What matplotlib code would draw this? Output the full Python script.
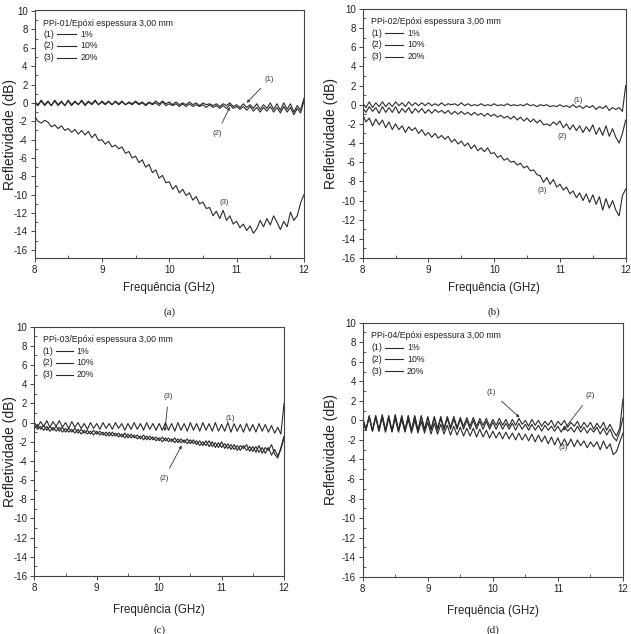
import numpy as np
import matplotlib
matplotlib.use("Agg")
import matplotlib.pyplot as plt

plt.rcParams['font.family'] = ['Liberation Sans', 'DejaVu Sans']
plt.rcParams['axes.unicode_minus'] = False

freq = np.round(np.arange(8.0, 12.0001, 0.05), 2)

a1 = [0.2, -0.2, 0.3, -0.2, 0.2, -0.3, 0.3, -0.2, 0.2, -0.3, 0.3, -0.2, 0.2, -0.2, 0.3, -0.2, 0.2, -0.1, 0.3, -0.2,
      0.2, -0.1, 0.2, -0.2, 0.2, -0.1, 0.2, -0.2, 0.1, -0.1, 0.2, -0.1, 0.1, -0.2, 0.1, -0.1, 0.2, -0.1, 0.2, -0.1,
      0.1, -0.2, 0.1, -0.2, 0.0, -0.2, 0.1, -0.2, 0.0, -0.3, 0.0, -0.2, -0.1, -0.3, -0.1, -0.4, -0.1, -0.3, 0.0, -0.4,
      -0.2, -0.5, -0.1, -0.5, -0.2, -0.6, -0.1, -0.7, -0.2, -0.6, 0.0, -0.7, -0.1, -0.8, 0.0, -0.7, -0.1, -1.0, -0.3, -0.8,
      0.5]
a2 = [0.0, -0.3, 0.2, -0.3, 0.1, -0.3, 0.2, -0.3, 0.1, -0.3, 0.2, -0.3, 0.1, -0.2, 0.2, -0.3, 0.1, -0.2, 0.2, -0.2,
      0.1, -0.2, 0.1, -0.2, 0.1, -0.2, 0.1, -0.2, 0.0, -0.2, 0.1, -0.2, 0.0, -0.3, 0.0, -0.2, 0.0, -0.3, 0.1, -0.3,
      -0.1, -0.3, -0.1, -0.4, -0.1, -0.4, -0.1, -0.4, -0.2, -0.4, -0.2, -0.5, -0.2, -0.5, -0.3, -0.6, -0.3, -0.6, -0.2, -0.6,
      -0.4, -0.7, -0.4, -0.8, -0.4, -0.9, -0.5, -1.0, -0.5, -0.9, -0.4, -1.0, -0.5, -1.1, -0.4, -1.0, -0.5, -1.3, -0.6, -1.1,
      0.2]
a3 = [-1.4, -2.0, -2.2, -1.9, -2.1, -2.6, -2.4, -2.8, -2.5, -3.0, -2.8, -3.2, -2.9, -3.4, -3.0, -3.5, -3.1, -3.8, -3.4, -4.1,
      -4.0, -4.5, -4.2, -4.8, -4.6, -5.0, -4.8, -5.5, -5.3, -6.0, -5.8, -6.5, -6.2, -7.0, -6.7, -7.6, -7.3, -8.2, -7.9, -8.7,
      -8.6, -9.4, -9.0, -9.8, -9.4, -10.1, -9.8, -10.6, -10.2, -11.0, -10.8, -11.5, -11.4, -12.3, -11.8, -12.6, -11.7, -12.8, -12.3, -13.2,
      -12.9, -13.6, -13.2, -13.9, -13.4, -14.2, -13.7, -12.8, -13.5, -12.6, -13.3, -12.3, -13.0, -13.8, -12.9, -13.5, -11.9, -12.8, -12.3, -10.9,
      -10.0]

b1 = [0.2, -0.3, 0.3, -0.3, 0.2, -0.2, 0.3, -0.2, 0.2, -0.2, 0.3, -0.1, 0.2, -0.2, 0.3, -0.1, 0.2, -0.1, 0.2, -0.1,
      0.2, -0.1, 0.1, -0.1, 0.2, -0.1, 0.1, 0.0, 0.1, -0.1, 0.2, -0.1, 0.1, -0.1, 0.0, -0.1, 0.1, -0.1, 0.0, -0.1,
      0.1, -0.1, 0.0, -0.1, 0.1, -0.1, 0.0, -0.1, 0.0, -0.1, 0.1, -0.1, 0.0, -0.2, 0.0, -0.1, 0.0, -0.2, -0.1, -0.2,
      0.0, -0.2, -0.1, -0.3, 0.0, -0.3, -0.1, -0.4, -0.1, -0.3, -0.1, -0.5, -0.2, -0.4, -0.1, -0.6, -0.3, -0.5, -0.3, -0.7,
      2.0]
b2 = [-0.3, -0.8, -0.2, -0.7, -0.3, -0.9, -0.2, -0.8, -0.3, -0.8, -0.2, -0.9, -0.4, -0.8, -0.3, -0.9, -0.4, -0.8, -0.4, -0.9,
      -0.5, -0.9, -0.5, -0.8, -0.6, -0.9, -0.6, -1.0, -0.7, -1.0, -0.7, -1.0, -0.8, -1.1, -0.8, -1.1, -0.9, -1.2, -0.9, -1.2,
      -1.0, -1.3, -1.1, -1.4, -1.2, -1.5, -1.2, -1.6, -1.3, -1.7, -1.4, -1.8, -1.5, -1.9, -1.6, -2.1, -2.0, -2.2, -1.8, -2.1,
      -1.7, -2.4, -2.0, -2.6, -2.1, -2.7, -2.2, -2.9, -2.3, -2.8, -2.1, -3.1, -2.4, -3.2, -2.2, -3.3, -2.5, -3.4, -4.0, -3.0,
      -1.6]
b3 = [-1.0, -1.8, -1.4, -2.2, -1.5, -2.1, -1.6, -2.4, -1.8, -2.6, -2.0, -2.6, -2.2, -2.9, -2.3, -2.7, -2.4, -3.0, -2.6, -3.2,
      -2.9, -3.4, -3.0, -3.5, -3.2, -3.6, -3.3, -3.9, -3.6, -4.1, -3.8, -4.3, -4.0, -4.6, -4.2, -4.8, -4.5, -4.9, -4.5, -5.1,
      -5.0, -5.5, -5.3, -5.8, -5.6, -6.0, -5.9, -6.3, -6.1, -6.6, -6.4, -6.9, -6.8, -7.3, -7.4, -8.1, -7.6, -8.3, -7.8, -8.6,
      -8.3, -8.9, -8.6, -9.3, -9.0, -9.7, -9.2, -10.0, -9.3, -10.2, -9.4, -10.4, -9.6, -11.0, -9.8, -10.8, -10.0, -11.0, -11.6, -9.5,
      -8.8]

c1 = [0.0, -0.5, 0.1, -0.4, 0.2, -0.5, 0.1, -0.4, 0.2, -0.5, 0.0, -0.6, 0.1, -0.5, 0.0, -0.6, -0.1, -0.7, 0.0, -0.6,
      -0.1, -0.7, 0.0, -0.6, -0.1, -0.7, 0.0, -0.6, -0.1, -0.8, -0.1, -0.7, 0.0, -0.7, -0.1, -0.8, 0.0, -0.7, -0.1, -0.8,
      -0.1, -0.8, 0.0, -0.8, -0.1, -0.9, 0.0, -0.8, -0.1, -0.9, 0.0, -0.8, -0.1, -0.9, 0.0, -0.8, -0.1, -0.9, 0.0, -0.9,
      -0.2, -0.9, 0.0, -1.0, -0.1, -0.9, -0.2, -1.0, -0.1, -0.9, -0.2, -1.0, -0.1, -0.9, -0.2, -1.0, -0.3, -1.1, -0.5, -1.2,
      2.0]
c2 = [-0.3, -0.7, -0.4, -0.8, -0.4, -0.9, -0.5, -0.9, -0.5, -1.0, -0.6, -1.0, -0.7, -1.1, -0.7, -1.2, -0.8, -1.2, -0.9, -1.3,
      -0.9, -1.3, -1.0, -1.4, -1.0, -1.4, -1.1, -1.5, -1.2, -1.6, -1.2, -1.6, -1.3, -1.7, -1.4, -1.8, -1.4, -1.8, -1.5, -1.9,
      -1.6, -2.0, -1.6, -2.0, -1.7, -2.1, -1.7, -2.1, -1.8, -2.2, -1.8, -2.2, -1.9, -2.4, -2.0, -2.4, -1.9, -2.5, -2.1, -2.6,
      -2.0, -2.7, -2.2, -2.8, -2.3, -2.9, -2.4, -2.7, -2.3, -3.0, -2.5, -3.1, -2.4, -3.2, -2.6, -2.9, -2.3, -3.3, -3.7, -2.6,
      -1.4]
c3 = [-0.6, -0.2, -0.7, -0.3, -0.8, -0.4, -0.8, -0.4, -0.9, -0.5, -1.0, -0.6, -1.0, -0.6, -1.1, -0.7, -1.1, -0.8, -1.2, -0.8,
      -1.2, -0.9, -1.3, -1.0, -1.4, -1.0, -1.4, -1.1, -1.5, -1.1, -1.6, -1.2, -1.6, -1.3, -1.7, -1.3, -1.8, -1.4, -1.8, -1.5,
      -1.9, -1.5, -1.9, -1.6, -2.0, -1.6, -2.1, -1.7, -2.1, -1.7, -2.2, -1.8, -2.3, -1.9, -2.4, -1.9, -2.5, -2.0, -2.6, -2.1,
      -2.6, -2.2, -2.7, -2.3, -2.8, -2.4, -2.9, -2.4, -2.9, -2.5, -3.0, -2.5, -3.1, -2.6, -3.2, -2.6, -3.4, -2.8, -3.5, -2.8,
      -1.6]

d1 = [0.3, -0.9, 0.5, -1.0, 0.5, -1.0, 0.6, -1.0, 0.5, -1.1, 0.6, -1.0, 0.5, -1.0, 0.5, -1.0, 0.5, -1.0, 0.5, -0.9,
      0.4, -0.9, 0.4, -0.8, 0.4, -0.8, 0.4, -0.7, 0.4, -0.7, 0.3, -0.6, 0.3, -0.6, 0.3, -0.6, 0.2, -0.5, 0.2, -0.6,
      0.1, -0.5, 0.2, -0.5, 0.1, -0.6, 0.1, -0.5, 0.2, -0.4, 0.0, -0.6, 0.1, -0.5, 0.0, -0.6, -0.1, -0.5, 0.0, -0.7,
      -0.1, -0.5, 0.0, -0.7, -0.2, -0.6, -0.1, -0.8, -0.2, -0.7, -0.2, -0.9, -0.3, -0.8, -0.2, -1.0, -0.4, -1.1, -1.6, -0.8,
      2.2]
d2 = [0.2, -1.0, 0.4, -1.1, 0.4, -1.1, 0.5, -1.1, 0.4, -1.1, 0.5, -1.1, 0.4, -1.1, 0.4, -1.1, 0.4, -1.1, 0.4, -1.0,
      0.3, -1.0, 0.2, -1.0, 0.2, -1.0, 0.2, -0.9, 0.1, -0.9, 0.1, -0.9, 0.0, -0.9, 0.0, -0.9, -0.1, -0.9, -0.1, -0.9,
      -0.2, -0.9, -0.2, -0.9, -0.3, -0.9, -0.3, -1.0, -0.3, -0.9, -0.4, -1.0, -0.4, -1.0, -0.5, -1.1, -0.5, -1.0, -0.6, -1.1,
      -0.6, -1.2, -0.6, -1.1, -0.7, -1.2, -0.6, -1.2, -0.7, -1.3, -0.8, -1.2, -0.7, -1.4, -0.8, -1.5, -0.9, -1.7, -2.1, -1.2,
      0.3]
d3 = [0.0, -1.0, 0.3, -1.1, 0.3, -1.1, 0.3, -1.2, 0.2, -1.2, 0.2, -1.2, 0.1, -1.2, 0.1, -1.3, 0.0, -1.3, -0.1, -1.3,
      -0.2, -1.4, -0.3, -1.4, -0.4, -1.4, -0.5, -1.5, -0.6, -1.5, -0.7, -1.6, -0.8, -1.6, -0.8, -1.7, -0.9, -1.7, -1.0, -1.8,
      -1.1, -1.8, -1.2, -1.9, -1.2, -1.9, -1.3, -2.0, -1.3, -2.0, -1.4, -2.1, -1.4, -2.2, -1.5, -2.2, -1.6, -2.4, -1.7, -2.5,
      -1.8, -2.6, -1.9, -2.6, -1.9, -2.7, -2.0, -2.6, -2.1, -2.8, -2.2, -2.7, -2.2, -3.0, -2.1, -2.9, -2.4, -3.5, -3.2, -2.2,
      -1.3]

legend_pct = ["1%", "10%", "20%"]
panels = [
    dict(name="PPi-01/Epóxi espessura 3,00 mm", tag="(a)", series=[a1, a2, a3], ylim=(-16.9, 10.1),
         rect=[0.0547, 0.593, 0.427, 0.391], ylab_x=-0.064, xpad=5,
         notes=[("(1)", 11.49, 2.6, 11.15, 0.0), ("(2)", 10.71, -3.3, 10.9, -0.45), ("(3)", 10.82, -10.8, None, None)]),
    dict(name="PPi-02/Epóxi espessura 3,00 mm", tag="(b)", series=[b1, b2, b3], ylim=(-16, 10),
         rect=[0.5748, 0.593, 0.4168, 0.393], ylab_x=-0.094, xpad=5,
         notes=[("(1)", 11.28, 0.4, None, None), ("(2)", 11.04, -3.3, None, None), ("(3)", 10.73, -9.0, None, None)]),
    dict(name="PPi-03/Epóxi espessura 3,00 mm", tag="(c)", series=[c1, c2, c3], ylim=(-16, 10),
         rect=[0.0544, 0.0915, 0.3957, 0.3932], ylab_x=-0.068, xpad=8,
         notes=[("(3)", 10.15, 2.7, 10.09, -0.9), ("(1)", 11.13, 0.4, None, None), ("(2)", 10.08, -5.8, 10.36, -2.4)]),
    dict(name="PPi-04/Epóxi espessura 3,00 mm", tag="(d)", series=[d1, d2, d3], ylim=(-16, 10),
         rect=[0.5748, 0.0904, 0.4125, 0.4006], ylab_x=-0.095, xpad=8,
         notes=[("(1)", 9.98, 2.9, 10.41, 0.3), ("(2)", 11.49, 2.5, 11.08, -1.05), ("(3)", 11.08, -2.8, None, None)]),
]

fig = plt.figure(figsize=(6.31, 6.34), dpi=100)
line_col = "#2a2a2a"
ax_col = "#444444"

for p in panels:
    ax = fig.add_axes(p["rect"])
    for ys in p["series"]:
        ax.plot(freq, ys, color=line_col, lw=0.8)
    ax.set_xlim(8, 12)
    ax.set_ylim(*p["ylim"])
    ax.set_xticks([8, 9, 10, 11, 12])
    ax.set_xticks([8.5, 9.5, 10.5, 11.5], minor=True)
    ax.set_yticks(np.arange(-16, 11, 2))
    ax.set_yticks(np.arange(-15, 10, 2), minor=True)
    ax.tick_params(which='major', direction='out', length=3, width=0.7, color=ax_col,
                   labelsize=7, labelcolor="#222222", pad=2)
    ax.tick_params(which='minor', direction='in', length=2, width=0.6, color=ax_col)
    for s in ax.spines.values():
        s.set_color(ax_col)
        s.set_linewidth(0.8)
    ax.set_xlabel("Frequência (GHz)", fontsize=8.3, color="#222222", labelpad=p["xpad"])
    ax.set_ylabel("Refletividade (dB)", fontsize=10, color="#222222")
    ax.yaxis.set_label_coords(p["ylab_x"], 0.5)
    # legend block
    ax.text(0.033, 0.948, p["name"], transform=ax.transAxes, fontsize=6.3, va='center', ha='left', color="#222222")
    ly = [0.902, 0.856, 0.808]
    for i, pct in enumerate(legend_pct):
        ax.text(0.033, ly[i], "(%d)" % (i + 1), transform=ax.transAxes, fontsize=6.3, va='center', ha='left', color="#222222")
        ax.plot([0.085, 0.155], [ly[i], ly[i]], transform=ax.transAxes, color=line_col, lw=0.8)
        ax.text(0.17, ly[i], pct, transform=ax.transAxes, fontsize=6.3, va='center', ha='left', color="#222222")
    for lab, tx, ty, hx, hy in p["notes"]:
        if hx is None:
            ax.text(tx, ty, lab, fontsize=5.5, ha='center', va='center', color="#333333")
        else:
            ax.annotate(lab, xy=(hx, hy), xytext=(tx, ty), fontsize=5.5, ha='center', va='center', color="#333333",
                        arrowprops=dict(arrowstyle='-|>', color="#333333", lw=0.6, mutation_scale=4, shrinkA=3, shrinkB=0))
    r = p["rect"]
    fig.text(r[0] + r[2] / 2, r[1] - 0.085, p["tag"], fontsize=8, ha='center', va='center',
             family=['Liberation Serif', 'DejaVu Serif'], color="#222222")

fig.savefig("out.png", dpi=100)
